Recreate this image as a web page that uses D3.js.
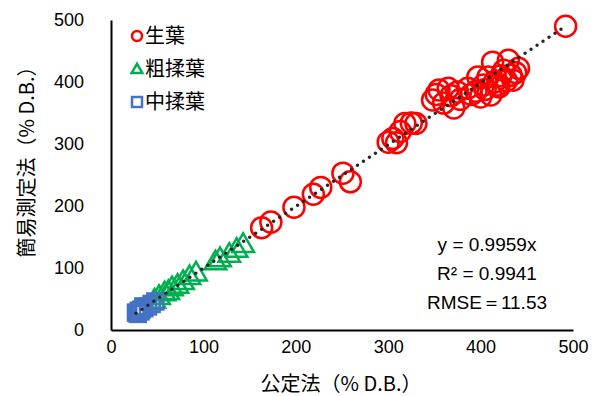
<!DOCTYPE html>
<html lang="ja">
<head>
<meta charset="UTF-8">
<title>公定法と簡易測定法</title>
<style>
  body { margin: 0; background: #fff; }
  .tick text { font-family: "Liberation Sans", Arial, sans-serif; font-size: 18px; fill: #000; }
  .jp { font-family: "Noto Sans CJK JP", sans-serif; fill: #000; }
  .stat { font-family: "Liberation Sans", Arial, sans-serif; font-size: 19px; fill: #000; }
</style>
</head>
<body>
<svg id="chart" width="592" height="396"></svg>
<script src="https://d3js.org/d3.v7.min.js"></script>
<script>
// 生葉 (fresh leaf) [公定法, 簡易測定法]
const nama = [
  [163,165],[173,174],[198,198],[219,219],[227,230],[251,253],[259,239],
  [300,303],[305,309],[309,302],[313,320],[318,333],[325,334],[330,333],
  [348,371],[352,380],[355,387],[360,366],[365,390],[368,378],[371,358],
  [375,384],[378,372],[386,390],[390,380],[395,385],[397,408],[400,376],
  [403,395],[405,388],[408,408],[411,379],[413,432],[415,400],[418,395],
  [420,392],[422,410],[425,419],[428,402],[430,435],[433,411],[435,403],
  [438,415],[441,422],[492,490]
];
// 粗揉葉
const sojyu = [
  [47,46],[52,52],[58,58],[62,60],[66,66],[72,70],[78,76],[85,84],[92,90],
  [113,108],[118,113],[128,120],[136,128],[143,136]
];
// 中揉葉
const chujyu = [
  [27,28],[29,26],[30,31],[32,30],[33,33],[35,38],[36,35],[40,38],[44,42],[48,46]
];
const xTicks = [0, 100, 200, 300, 400, 500];
const yTicks = [0, 100, 200, 300, 400, 500];
const slope = 0.9959;
const statLines = ["y = 0.9959x", "R² = 0.9941", "RMSE＝11.53"];

const svg = d3.select("#chart");
const x = d3.scaleLinear().domain([0, 500]).range([111, 573]);
const y = d3.scaleLinear().domain([0, 500]).range([330, 20]);

// axes
svg.append("g")
  .attr("transform", "translate(0,330)")
  .call(d3.axisBottom(x).tickValues(xTicks).tickSize(0).tickPadding(10))
  .call(g => g.select(".domain").attr("stroke", "#000").attr("stroke-width", 2));
svg.append("g")
  .attr("transform", "translate(111,0)")
  .call(d3.axisLeft(y).tickValues(yTicks).tickSize(0).tickPadding(27))
  .call(g => g.select(".domain").attr("stroke", "#000").attr("stroke-width", 2));

// red circles
svg.append("g").selectAll("circle")
  .data(nama).enter().append("circle")
  .attr("cx", d => x(d[0])).attr("cy", d => y(d[1]))
  .attr("r", 10.5)
  .attr("fill", "none").attr("stroke", "#ff0000").attr("stroke-width", 2.5);

// green triangles
const tri = d3.symbol().type(d3.symbolTriangle).size(200);
svg.append("g").selectAll("path")
  .data(sojyu).enter().append("path")
  .attr("d", tri)
  .attr("transform", d => `translate(${x(d[0])},${y(d[1])})`)
  .attr("fill", "none").attr("stroke", "#00b050").attr("stroke-width", 2.5);

// blue squares
svg.append("g").selectAll("rect")
  .data(chujyu).enter().append("rect")
  .attr("x", d => x(d[0]) - 8).attr("y", d => y(d[1]) - 8)
  .attr("width", 16).attr("height", 16)
  .attr("fill", "none").attr("stroke", "#4472c4").attr("stroke-width", 2.5);

// trendline
const xs = nama.concat(sojyu, chujyu).map(d => d[0]);
const x0 = d3.min(xs), x1 = d3.max(xs);
svg.append("line")
  .attr("x1", x(x0)).attr("y1", y(slope * x0))
  .attr("x2", x(x1)).attr("y2", y(slope * x1))
  .attr("stroke", "#262626").attr("stroke-width", 3.5)
  .attr("stroke-linecap", "round").attr("stroke-dasharray", "0,7.2");

// legend
const legend = [
  { label: "生葉", kind: "circle", color: "#ff0000" },
  { label: "粗揉葉", kind: "tri", color: "#00b050" },
  { label: "中揉葉", kind: "square", color: "#4472c4" }
];
const lg = svg.append("g");
legend.forEach((l, i) => {
  const cy = 36 + i * 33;
  if (l.kind === "circle") {
    lg.append("circle").attr("cx", 137).attr("cy", cy).attr("r", 5)
      .attr("fill", "none").attr("stroke", l.color).attr("stroke-width", 2.5);
  } else if (l.kind === "tri") {
    lg.append("path").attr("d", d3.symbol().type(d3.symbolTriangle).size(50))
      .attr("transform", `translate(137,${cy + 1})`)
      .attr("fill", "none").attr("stroke", l.color).attr("stroke-width", 2.5);
  } else {
    lg.append("rect").attr("x", 132).attr("y", cy - 5).attr("width", 10).attr("height", 10)
      .attr("fill", "none").attr("stroke", l.color).attr("stroke-width", 2.5);
  }
  lg.append("text").attr("class", "jp").attr("x", 145).attr("y", cy + 7)
    .attr("font-size", 20).text(l.label);
});

// stats
statLines.forEach((s, i) => {
  svg.append("text").attr("class", "stat")
    .attr("x", 487).attr("y", 251 + i * 29)
    .attr("text-anchor", "middle").text(s);
});

// axis titles
svg.append("text").attr("class", "jp")
  .attr("x", 341).attr("y", 391)
  .attr("text-anchor", "middle").attr("font-size", 20)
  .text("公定法（% D.B.）");
svg.append("text").attr("class", "jp")
  .attr("transform", "translate(34,157) rotate(-90)")
  .attr("text-anchor", "middle").attr("font-size", 20)
  .text("簡易測定法（% D.B.）");
</script>
</body>
</html>
